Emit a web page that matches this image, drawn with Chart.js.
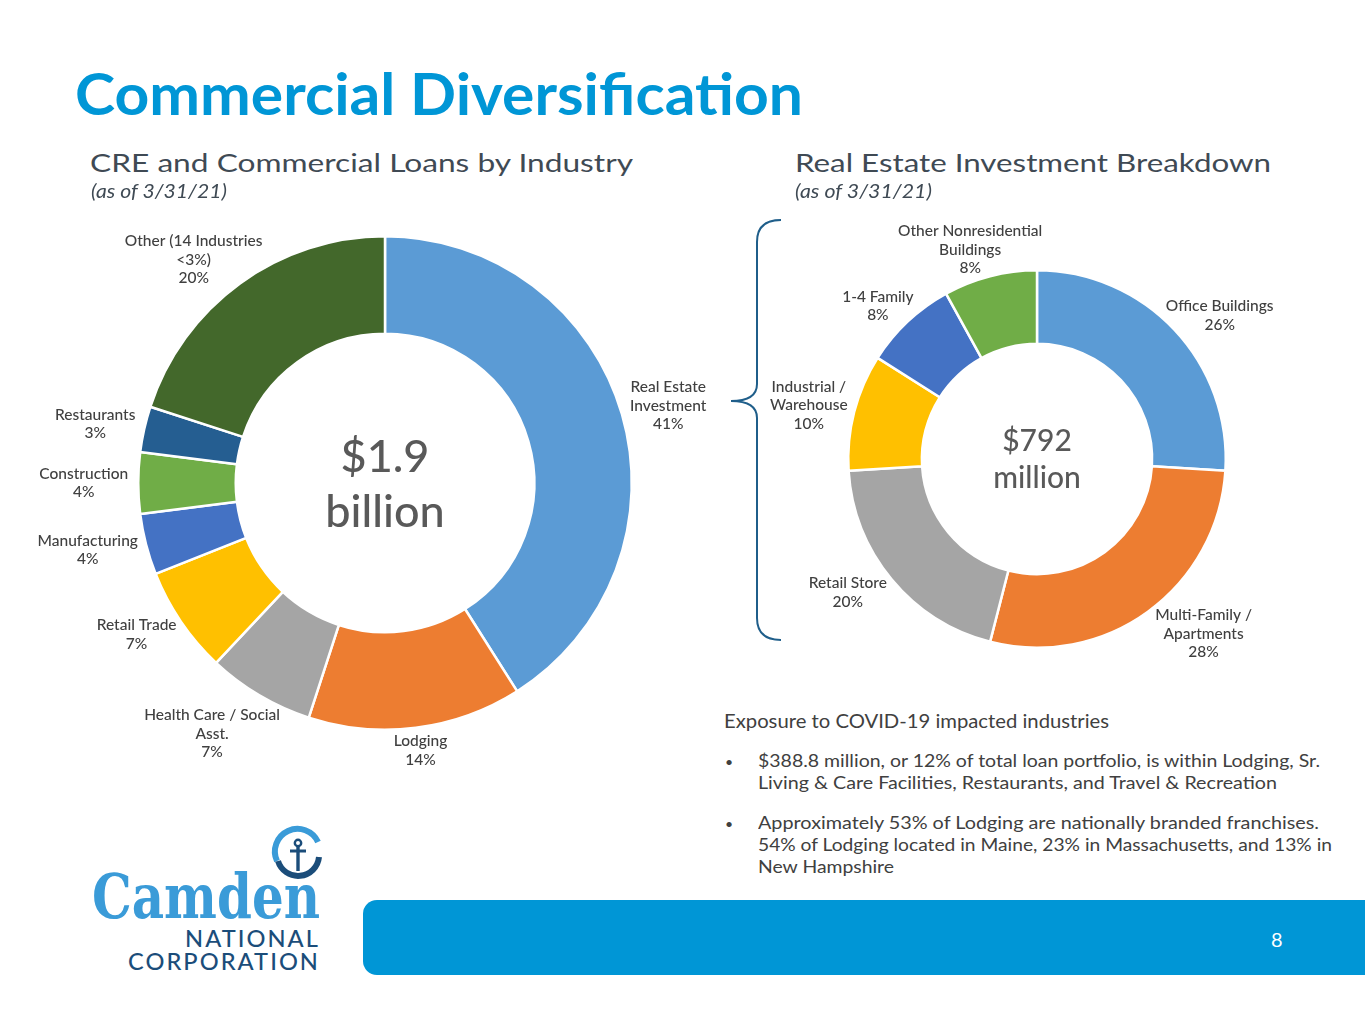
<!DOCTYPE html>
<html>
<head>
<meta charset="utf-8">
<script src="https://cdn.jsdelivr.net/npm/chart.js@4.4.0/dist/chart.umd.min.js"></script>
<style>
html,body{margin:0;padding:0;background:#ffffff;}
#page{position:relative;width:1365px;height:1024px;overflow:hidden;background:#fff;}
.t{position:absolute;white-space:nowrap;}
canvas{position:absolute;}
#footer{position:absolute;left:363px;top:900px;width:1002px;height:75px;background:#0096D6;border-radius:14px 0 0 14px;}
svg{position:absolute;left:0;top:0;}
</style>
</head>
<body>
<div id="page">
  <svg width="1365" height="1024" viewBox="0 0 1365 1024">
    <path d="M781 220 Q757 220 757 242 L757 384 Q757 401 731 401 Q757 401 757 418 L757 618 Q757 640 781 640" fill="none" stroke="#1F5E8A" stroke-width="2"/>
    <path d="M318 842 A21 21 0 1 0 277 861" fill="none" stroke="#3A9BD8" stroke-width="6"/>
    <path d="M278 861 A21 21 0 0 0 319 857" fill="none" stroke="#1B4D7A" stroke-width="6"/>
    <circle cx="298" cy="843" r="3.2" fill="none" stroke="#1B4D7A" stroke-width="2.4"/>
    <line x1="298" y1="846" x2="298" y2="871" stroke="#1B4D7A" stroke-width="3.4"/>
    <line x1="290" y1="851" x2="306" y2="851" stroke="#1B4D7A" stroke-width="3"/>
  </svg>
  <div id="footer"></div>
  <canvas id="leftChart" width="720" height="600" style="left:0px;top:200px;width:720px;height:600px;"></canvas>
  <canvas id="rightChart" width="600" height="480" style="left:740px;top:200px;width:600px;height:480px;"></canvas>
</div>
<script>
// ---------- data ----------
const leftCategories = ["Real Estate Investment","Lodging","Health Care / Social Asst.","Retail Trade","Manufacturing","Construction","Restaurants","Other (14 Industries <3%)"];
const leftLabelLines = [["Real Estate","Investment"],["Lodging"],["Health Care / Social","Asst."],["Retail Trade"],["Manufacturing"],["Construction"],["Restaurants"],["Other (14 Industries","<3%)"]];
const leftValues = [41,14,7,7,4,4,3,20];
const leftColors = ["#5B9BD5","#ED7D31","#A5A5A5","#FFC000","#4472C4","#70AD47","#255E91","#43682B"];
const leftCenter = ["$1.9","billion"];

const rightCategories = ["Office Buildings","Multi-Family / Apartments","Retail Store","Industrial / Warehouse","1-4 Family","Other Nonresidential Buildings"];
const rightLabelLines = [["Office Buildings"],["Multi-Family /","Apartments"],["Retail Store"],["Industrial /","Warehouse"],["1-4 Family"],["Other Nonresidential","Buildings"]];
const rightValues = [26,28,20,10,8,8];
const rightColors = ["#5B9BD5","#ED7D31","#A5A5A5","#FFC000","#4472C4","#70AD47"];
const rightCenter = ["$792","million"];

// ---------- static text ----------
const texts = [
  {text:"Commercial Diversification", x:75, base:115, size:58, weight:"bold", color:"#0096D6", width:728},
  {text:"CRE and Commercial Loans by Industry", x:90, base:172, size:25, color:"#3F4A54", width:543},
  {text:"(as of 3/31/21)", x:91, base:198, size:19, style:"italic", color:"#3F4A54", width:136},
  {text:"Real Estate Investment Breakdown", x:795, base:172, size:25, color:"#3F4A54", width:476},
  {text:"(as of 3/31/21)", x:795, base:198, size:19, style:"italic", color:"#3F4A54", width:137},
  {text:"Exposure to COVID-19 impacted industries", x:724, base:728, size:19, color:"#404040", width:385},
  {text:"•", x:725, base:767, size:14, color:"#404040"},
  {text:"$388.8 million, or 12% of total loan portfolio, is within Lodging, Sr.", x:758, base:767, size:18, color:"#404040", width:562},
  {text:"Living & Care Facilities, Restaurants, and Travel & Recreation", x:758, base:789, size:18, color:"#404040", width:519},
  {text:"•", x:725, base:829, size:14, color:"#404040"},
  {text:"Approximately 53% of Lodging are nationally branded franchises.", x:758, base:829, size:18, color:"#404040", width:561},
  {text:"54% of Lodging located in Maine, 23% in Massachusetts, and 13% in", x:758, base:851, size:18, color:"#404040", width:574},
  {text:"New Hampshire", x:758, base:873, size:18, color:"#404040", width:136},
  {text:"8", x:1271, base:947, size:20, color:"#FFFFFF"},
  {text:"Camden", x:92, base:918, size:62, weight:"bold", family:"'DejaVu Serif', 'Liberation Serif', serif", color:"#3A9BD8", width:228},
  {text:"NATIONAL", x:185, base:947, size:23, weight:"500", color:"#1B4D7A", width:135, spacing:"2px"},
  {text:"CORPORATION", x:128, base:970, size:23, weight:"500", color:"#1B4D7A", width:192, spacing:"2px"}
];

const page = document.getElementById('page');
const mctx = document.createElement('canvas').getContext('2d');
function placeText(o){
  const fam = o.family || "Lato, 'Open Sans', sans-serif";
  const el = document.createElement('div');
  el.className = 't';
  el.textContent = o.text;
  el.style.fontFamily = fam;
  el.style.fontSize = o.size + 'px';
  el.style.fontWeight = o.weight || 'normal';
  el.style.fontStyle = o.style || 'normal';
  el.style.color = o.color;
  el.style.lineHeight = o.size + 'px';
  if (o.spacing) el.style.letterSpacing = o.spacing;
  mctx.font = (o.style||'normal') + ' ' + (o.weight||'normal') + ' ' + o.size + 'px ' + fam;
  const m = mctx.measureText(o.text);
  const asc = m.fontBoundingBoxAscent, desc = m.fontBoundingBoxDescent;
  const baseOff = (o.size - (asc + desc)) / 2 + asc;
  el.style.left = o.x + 'px';
  el.style.top = (o.base - baseOff) + 'px';
  el.style.transformOrigin = '0 50%';
  page.appendChild(el);
  if (o.width) {
    const w = el.getBoundingClientRect().width;
    if (w > 0) el.style.transform = 'scaleX(' + (o.width / w) + ')';
  }
}
texts.forEach(placeText);

// ---------- chart plugins ----------
const outsideLabels = {
  id: 'outsideLabels',
  afterDatasetsDraw(chart, args, opts) {
    const ctx = chart.ctx;
    const meta = chart.getDatasetMeta(0);
    const vals = chart.data.datasets[0].data;
    ctx.save();
    ctx.font = opts.font;
    ctx.fillStyle = opts.color;
    ctx.textAlign = 'center';
    ctx.textBaseline = 'middle';
    meta.data.forEach((arc, i) => {
      const p = arc.getProps(['x','y','startAngle','endAngle','outerRadius'], true);
      const mid = (p.startAngle + p.endAngle) / 2;
      const dx = Math.cos(mid), dy = Math.sin(mid);
      const lines = opts.lines[i].concat([vals[i] + '%']);
      const lh = opts.lineHeight;
      const widths = lines.map(t => ctx.measureText(t).width);
      const w = Math.max.apply(null, widths);
      const h = lines.length * lh;
      const r = p.outerRadius + opts.gap;
      let cx = p.x + dx * r + dx * w / 2;
      let cy = p.y + dy * r + dy * h / 2 * opts.vFactor;
      // keep every text line clear of the ring
      const clear = (ccx, ccy) => lines.every((t, k) => {
        const ly = ccy - h / 2 + lh * (k + 0.5);
        const x0 = ccx - widths[k] / 2, x1 = ccx + widths[k] / 2;
        const y0 = ly - opts.glyph / 2, y1 = ly + opts.glyph / 2;
        const nx = Math.min(Math.max(p.x, x0), x1), ny = Math.min(Math.max(p.y, y0), y1);
        return Math.hypot(nx - p.x, ny - p.y) >= p.outerRadius + opts.minClear;
      });
      const horiz = Math.abs(dx) > 0.55;
      const px = horiz ? Math.sign(dx) : dx, py = horiz ? 0 : dy;
      let guard = 0;
      while (!clear(cx, cy) && guard < 200) { cx += px * 0.5; cy += py * 0.5; guard++; }
      lines.forEach((t, k) => ctx.fillText(t, cx, cy - h / 2 + lh * (k + 0.5)));
    });
    ctx.restore();
  }
};
const centerText = {
  id: 'centerText',
  afterDatasetsDraw(chart, args, opts) {
    const ctx = chart.ctx;
    const arc = chart.getDatasetMeta(0).data[0];
    const p = arc.getProps(['x','y'], true);
    ctx.save();
    ctx.font = opts.font;
    ctx.fillStyle = opts.color;
    ctx.textAlign = 'center';
    ctx.textBaseline = 'middle';
    opts.lines.forEach((t, k) => ctx.fillText(t, p.x, p.y + opts.offsets[k]));
    ctx.restore();
  }
};

function makeChart(id, cats, vals, colors, lines, center, cutout, padding, gap, centerFont, centerOffsets) {
  return new Chart(document.getElementById(id), {
    type: 'doughnut',
    data: {
      labels: cats,
      datasets: [{ data: vals, backgroundColor: colors, borderColor: '#FFFFFF', borderWidth: 2.5 }]
    },
    options: {
      responsive: false,
      animation: false,
      cutout: cutout,
      layout: { padding: padding },
      plugins: {
        legend: { display: false },
        tooltip: { enabled: false },
        outsideLabels: { lines: lines, font: "500 15.5px Lato, 'Open Sans', sans-serif", color: '#404040',
                         lineHeight: 18.5, gap: gap, vFactor: 0.7, glyph: 13, minClear: 2 },
        centerText: { lines: center, font: centerFont, color: '#595959', offsets: centerOffsets }
      }
    },
    plugins: [outsideLabels, centerText]
  });
}

makeChart('leftChart', leftCategories, leftValues, leftColors, leftLabelLines, leftCenter, '60.5%',
  { left: 137, right: 87, top: 35, bottom: 69 }, 10, "500 45px Lato, 'Open Sans', sans-serif", [-26, 29]);
makeChart('rightChart', rightCategories, rightValues, rightColors, rightLabelLines, rightCenter, '61%',
  { left: 107, right: 113, top: 69, bottom: 31 }, 8, "500 30px Lato, 'Open Sans', sans-serif", [-18, 19]);
</script>
</body>
</html>
